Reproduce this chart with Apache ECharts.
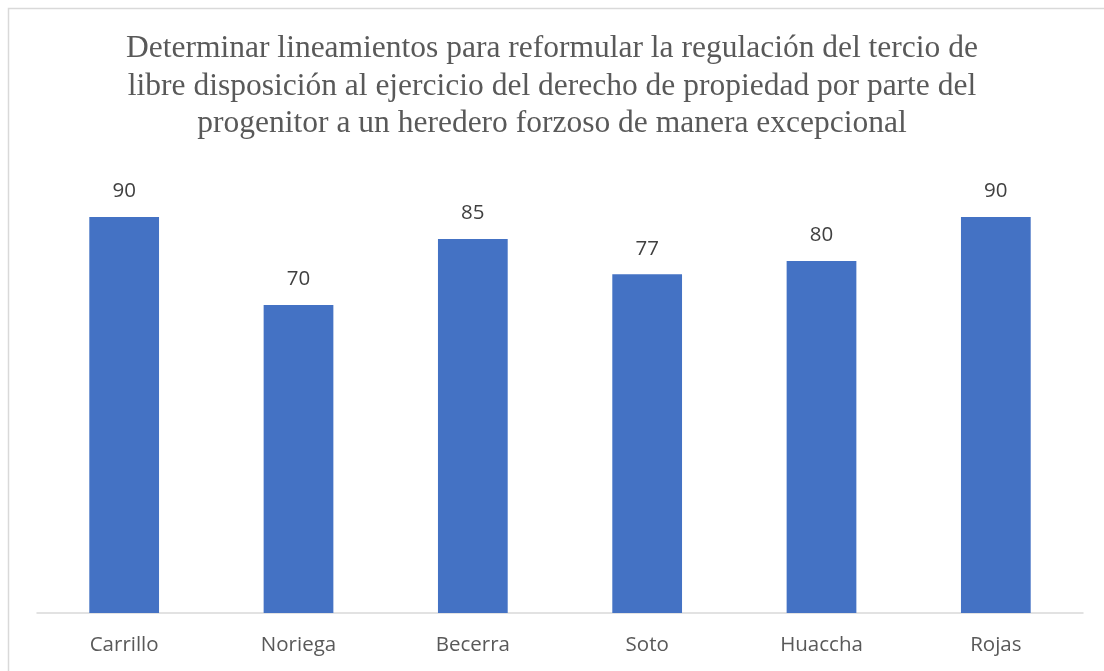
<!DOCTYPE html>
<html>
<head>
<meta charset="utf-8">
<script src="https://cdn.jsdelivr.net/npm/echarts@6/dist/echarts.min.js"></script>
<style>
    html, body { margin: 0; padding: 0; background: #fff; }
    #chart { width: 1104px; height: 671px; }
</style>
</head>
<body>
<div id="chart"></div>
<script>
    var titleText = 'Determinar lineamientos para reformular la regulación del tercio de\n' +
        'libre disposición al ejercicio del derecho de propiedad por parte del\n' +
        'progenitor a un heredero forzoso de manera excepcional';
    var categories = ['Carrillo', 'Noriega', 'Becerra', 'Soto', 'Huaccha', 'Rojas'];
    var values = [90, 70, 85, 77, 80, 90];

    var chart = echarts.init(document.getElementById('chart'));
    var option = {
        backgroundColor: '#fff',
        animation: false,
        graphic: [
            {
                type: 'rect',
                shape: {x: 8.5, y: 8.5, width: 1200, height: 800},
                style: {fill: 'none', stroke: '#d9d9d9', lineWidth: 1.5},
                silent: true
            }
        ],
        title: {
            text: titleText,
            left: 'center',
            top: 25,
            textStyle: {
                fontFamily: '"Liberation Serif", "DejaVu Serif", serif',
                fontSize: 31.5,
                fontWeight: 'normal',
                color: '#595959',
                lineHeight: 37.5
            }
        },
        grid: {
            left: 37,
            right: 21,
            top: 173,
            bottom: 58
        },
        xAxis: {
            type: 'category',
            data: categories,
            axisLine: {lineStyle: {color: '#d9d9d9', width: 1.5}},
            axisTick: {show: false},
            axisLabel: {
                color: '#595959',
                fontFamily: '"Open Sans", "Noto Sans", sans-serif',
                fontSize: 20.5,
                margin: 22
            }
        },
        yAxis: {
            type: 'value',
            min: 0,
            max: 100,
            show: false,
            splitLine: {show: false}
        },
        series: [
            {
                type: 'bar',
                data: values,
                barCategoryGap: '60%',
                itemStyle: {color: '#4472C4'},
                label: {
                    show: true,
                    position: 'top',
                    distance: 15,
                    color: '#404040',
                    fontFamily: '"Open Sans", "Noto Sans", sans-serif',
                    fontSize: 20.5
                }
            }
        ]
    };
    chart.setOption(option);
</script>
</body>
</html>
